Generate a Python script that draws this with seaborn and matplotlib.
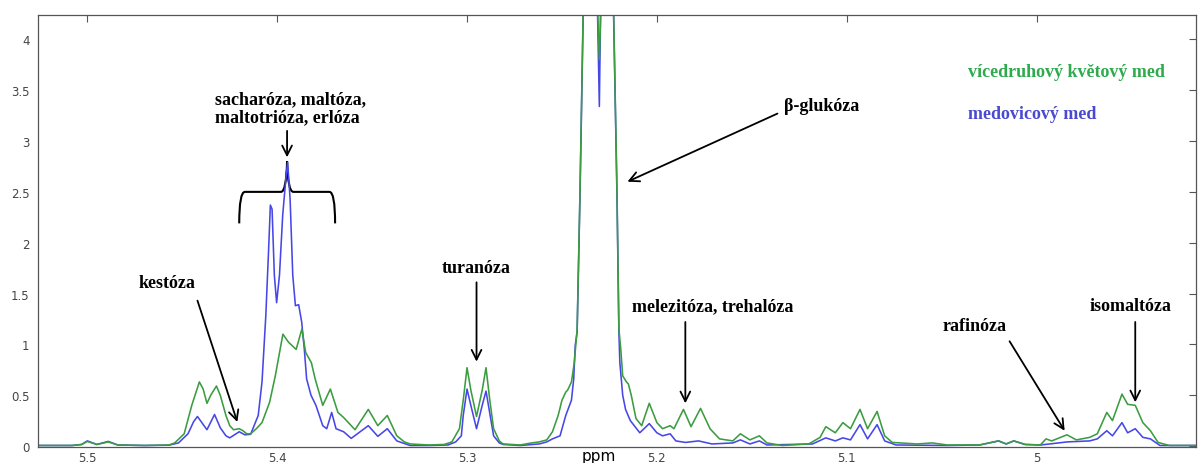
import matplotlib
matplotlib.use("Agg")
import matplotlib.pyplot as plt
from matplotlib.path import Path
from matplotlib.patches import PathPatch
import seaborn as sns
import pandas as pd

# ---------------- data ----------------
series_names = ["medovicový med", "vícedruhový květový med"]

green_ppm = [5.526, 5.508, 5.503, 5.500, 5.495, 5.489, 5.484, 5.470, 5.457, 5.454,
             5.449, 5.445, 5.441, 5.439, 5.437, 5.435, 5.432, 5.430, 5.427, 5.425,
             5.423, 5.420, 5.418, 5.416, 5.414, 5.411, 5.408, 5.404, 5.401, 5.397,
             5.394, 5.390, 5.387, 5.385, 5.382, 5.380, 5.376, 5.372, 5.368, 5.365,
             5.359, 5.352, 5.347, 5.342, 5.337, 5.333, 5.330, 5.320, 5.312, 5.308,
             5.304, 5.302, 5.300, 5.298, 5.295, 5.292, 5.290, 5.288, 5.286, 5.283,
             5.281, 5.272, 5.266, 5.262, 5.258, 5.255, 5.252, 5.250, 5.248, 5.247,
             5.245, 5.2435, 5.242, 5.2405, 5.2388, 5.2345, 5.2318, 5.2303, 5.2290, 5.2265,
             5.2228, 5.2210,
             5.2200, 5.2190, 5.2180, 5.2160, 5.2150, 5.2135, 5.211, 5.208, 5.204, 5.200,
             5.197, 5.193, 5.191, 5.186, 5.182, 5.177, 5.172, 5.167, 5.160, 5.156,
             5.151, 5.146, 5.142, 5.134, 5.120, 5.114, 5.111, 5.106, 5.102, 5.098,
             5.093, 5.089, 5.084, 5.080, 5.076, 5.063, 5.055, 5.047, 5.030, 5.020,
             5.016, 5.012, 5.006, 4.998, 4.995, 4.992, 4.984, 4.979, 4.972, 4.968,
             4.963, 4.960, 4.955, 4.952, 4.948, 4.944, 4.940, 4.936, 4.930, 4.916]
green_int = [0.005, 0.005, 0.015, 0.045, 0.015, 0.040, 0.010, 0.005, 0.010, 0.030,
             0.12, 0.40, 0.63, 0.56, 0.42, 0.50, 0.59, 0.50, 0.30, 0.20,
             0.16, 0.17, 0.15, 0.12, 0.12, 0.17, 0.23, 0.43, 0.69, 1.10,
             1.02, 0.95, 1.15, 0.92, 0.82, 0.66, 0.40, 0.56, 0.33, 0.28,
             0.16, 0.36, 0.20, 0.30, 0.10, 0.04, 0.02, 0.010, 0.015, 0.04,
             0.17, 0.45, 0.77, 0.55, 0.29, 0.55, 0.77, 0.45, 0.17, 0.05,
             0.02, 0.010, 0.03, 0.04, 0.06, 0.14, 0.30, 0.45, 0.53, 0.55,
             0.63, 0.82, 1.15, 2.50, 4.30, 6.00, 4.60, 3.80, 4.60, 6.00,
             4.30, 2.50,
             1.15, 0.95, 0.69, 0.63, 0.61, 0.50, 0.27, 0.20, 0.42, 0.23,
             0.17, 0.20, 0.17, 0.36, 0.19, 0.37, 0.17, 0.07, 0.05, 0.12,
             0.06, 0.10, 0.03, 0.005, 0.02, 0.085, 0.19, 0.13, 0.23, 0.17,
             0.36, 0.17, 0.34, 0.10, 0.035, 0.02, 0.03, 0.010, 0.010, 0.05,
             0.02, 0.05, 0.015, 0.010, 0.07, 0.05, 0.11, 0.06, 0.085, 0.12,
             0.33, 0.25, 0.51, 0.41, 0.40, 0.23, 0.15, 0.035, 0.005, 0.005]

blue_ppm = [5.526, 5.508, 5.503, 5.500, 5.495, 5.489, 5.484, 5.470, 5.457, 5.452,
            5.447, 5.444, 5.442, 5.437, 5.433, 5.430, 5.427, 5.425, 5.420, 5.417,
            5.414, 5.410, 5.408, 5.406, 5.4045, 5.4036, 5.4027, 5.4015, 5.4003, 5.3988,
            5.3971, 5.3953, 5.3945, 5.3932, 5.3918, 5.3904, 5.3887, 5.3871, 5.3857, 5.3845,
            5.3822, 5.3796, 5.3760, 5.3739, 5.3713, 5.3690, 5.3650, 5.3610, 5.3520, 5.3470,
            5.3420, 5.3370, 5.3300, 5.320, 5.310, 5.306, 5.303, 5.302, 5.300, 5.298,
            5.295, 5.292, 5.290, 5.288, 5.286, 5.283, 5.281, 5.272, 5.262, 5.258,
            5.255, 5.251, 5.248, 5.245, 5.2438, 5.243, 5.242, 5.2405, 5.2388, 5.2345,
            5.2315, 5.2303, 5.2295, 5.2265, 5.2228, 5.2210,
            5.2200, 5.2195, 5.218, 5.2165, 5.214, 5.209,
            5.204, 5.200, 5.197, 5.193, 5.190, 5.185, 5.178, 5.171, 5.160, 5.156,
            5.151, 5.146, 5.142, 5.118, 5.111, 5.106, 5.102, 5.098, 5.093, 5.089,
            5.084, 5.080, 5.074, 5.047, 5.030, 5.020, 5.016, 5.012, 5.006, 4.998,
            4.993, 4.984, 4.972, 4.968, 4.963, 4.960, 4.955, 4.952, 4.948, 4.944,
            4.940, 4.935, 4.916]
blue_int = [0.005, 0.005, 0.015, 0.050, 0.015, 0.045, 0.010, 0.005, 0.008, 0.03,
            0.12, 0.24, 0.29, 0.16, 0.31, 0.18, 0.10, 0.08, 0.14, 0.11,
            0.115, 0.30, 0.63, 1.28, 1.94, 2.37, 2.33, 1.68, 1.41, 1.68,
            2.27, 2.66, 2.79, 2.43, 1.68, 1.38, 1.39, 1.22, 0.95, 0.66,
            0.50, 0.40, 0.20, 0.17, 0.33, 0.17, 0.14, 0.075, 0.20, 0.095,
            0.17, 0.05, 0.005, 0.005, 0.010, 0.04, 0.10, 0.30, 0.56, 0.40,
            0.17, 0.40, 0.54, 0.32, 0.10, 0.03, 0.015, 0.005, 0.02, 0.04,
            0.07, 0.10, 0.30, 0.45, 0.66, 0.99, 1.12, 2.45, 4.25, 5.80,
            4.50, 3.34, 4.50, 5.80, 4.25, 2.45,
            1.12, 0.82, 0.50, 0.36, 0.25, 0.13,
            0.22, 0.13, 0.10, 0.12, 0.05, 0.035, 0.05, 0.02, 0.03, 0.06,
            0.02, 0.05, 0.010, 0.02, 0.08, 0.05, 0.08, 0.06, 0.21, 0.07,
            0.21, 0.05, 0.010, 0.005, 0.010, 0.05, 0.02, 0.05, 0.015, 0.010,
            0.02, 0.04, 0.05, 0.07, 0.15, 0.10, 0.23, 0.13, 0.17, 0.085,
            0.07, 0.005, 0.005]

x_ticks = [5.5, 5.4, 5.3, 5.2, 5.1, 5.0]
x_tick_labels = ["5.5", "5.4", "5.3", "5.2", "5.1", "5"]
y_ticks = [0, 0.5, 1, 1.5, 2, 2.5, 3, 3.5, 4]
y_tick_labels = ["0", "0.5", "1", "1.5", "2", "2.5", "3", "3.5", "4"]

annotation_texts = ["sacharóza, maltóza,\nmaltotrióza, erlóza", "kestóza", "turanóza",
                    "β-glukóza", "melezitóza, trehalóza", "rafinóza", "isomaltóza"]

# ---------------- build table ----------------
df = pd.concat([
    pd.DataFrame({"ppm": blue_ppm, "intensity": blue_int, "series": series_names[0]}),
    pd.DataFrame({"ppm": green_ppm, "intensity": green_int, "series": series_names[1]}),
], ignore_index=True)

sns.set_style("white")
plt.rcParams["font.family"] = ["DejaVu Sans"]
plt.rcParams["text.color"] = "black"

W, H = 1198, 464
fig = plt.figure(figsize=(W / 100, H / 100), dpi=100)
ax = fig.add_axes([38 / W, (H - 447.5) / H, 1158 / W, (447.5 - 16) / H])

line_colors = {series_names[0]: "#4747e8", series_names[1]: "#3b9c40"}
sns.lineplot(data=df, x="ppm", y="intensity", hue="series", hue_order=series_names,
             palette=line_colors, estimator=None, sort=False, linewidth=1.15,
             legend=False, ax=ax)

ax.set_xlim(5.526, 4.916)
ax.set_ylim(-0.005, 4.24)
ax.set_xticks(x_ticks)
ax.set_xticklabels(x_tick_labels)
ax.set_yticks(y_ticks)
ax.set_yticklabels(y_tick_labels)
ax.set_xlabel("")
ax.set_ylabel("")
ax.tick_params(direction="in", length=5, width=0.8, top=True, right=True,
               labelsize=8.5, labelcolor="#444444", color="#555555")
ax.tick_params(axis="x", pad=3)
ax.tick_params(axis="y", pad=6)
for sp in ax.spines.values():
    sp.set_color("#555555")
    sp.set_linewidth(0.9)

fig.text(599 / W, 1 - 457 / H, "ppm", ha="center", va="center", fontsize=11, color="black")

# ---------------- annotations ----------------
serif = dict(family=["Liberation Serif", "DejaVu Serif"], weight="bold", size=13)
arrow_kw = dict(arrowstyle="->,head_length=0.7,head_width=0.35", color="black", lw=1.3,
                shrinkA=0, shrinkB=0)

ax.text(5.433, 3.327, annotation_texts[0], ha="left", va="center", linespacing=1.1,
        color="black", **serif)
ax.annotate("", xy=(5.3948, 2.84), xytext=(5.3948, 3.10), arrowprops=arrow_kw)

# curly bracket over the sucrose region
verts = [(5.420, 2.19), (5.420, 2.50), (5.417, 2.50),
         (5.398, 2.50),
         (5.3952, 2.50), (5.3948, 2.80),
         (5.3944, 2.50), (5.3915, 2.50),
         (5.3725, 2.50),
         (5.3695, 2.50), (5.3695, 2.19)]
codes = [Path.MOVETO, Path.CURVE3, Path.CURVE3,
         Path.LINETO,
         Path.CURVE3, Path.CURVE3,
         Path.CURVE3, Path.CURVE3,
         Path.LINETO,
         Path.CURVE3, Path.CURVE3]
ax.add_patch(PathPatch(Path(verts, codes), fill=False, lw=1.5, color="black"))

label_pos = [(5.458, 1.61), (5.295, 1.76), (5.113, 3.35), (5.1707, 1.38),
             (5.0327, 1.19), (4.9505, 1.378)]
arrow_pos = [((5.442, 1.43), (5.421, 0.236)),
             ((5.295, 1.61), (5.295, 0.83)),
             ((5.1365, 3.27), (5.2155, 2.60)),
             ((5.185, 1.22), (5.185, 0.42)),
             ((5.0142, 1.03), (4.9852, 0.15)),
             ((4.948, 1.22), (4.948, 0.43))]
for txt, (tx, ty), (start, tip) in zip(annotation_texts[1:], label_pos, arrow_pos):
    ax.text(tx, ty, txt, ha="center", va="center", color="black", **serif)
    ax.annotate("", xy=tip, xytext=start, arrowprops=arrow_kw)

# legend-like coloured labels
ax.text(5.036, 3.68, series_names[1], ha="left", va="center", color="#2faa4e", **serif)
ax.text(5.036, 3.27, series_names[0], ha="left", va="center", color="#4a4ad0", **serif)

fig.savefig("out.png", dpi=100)
